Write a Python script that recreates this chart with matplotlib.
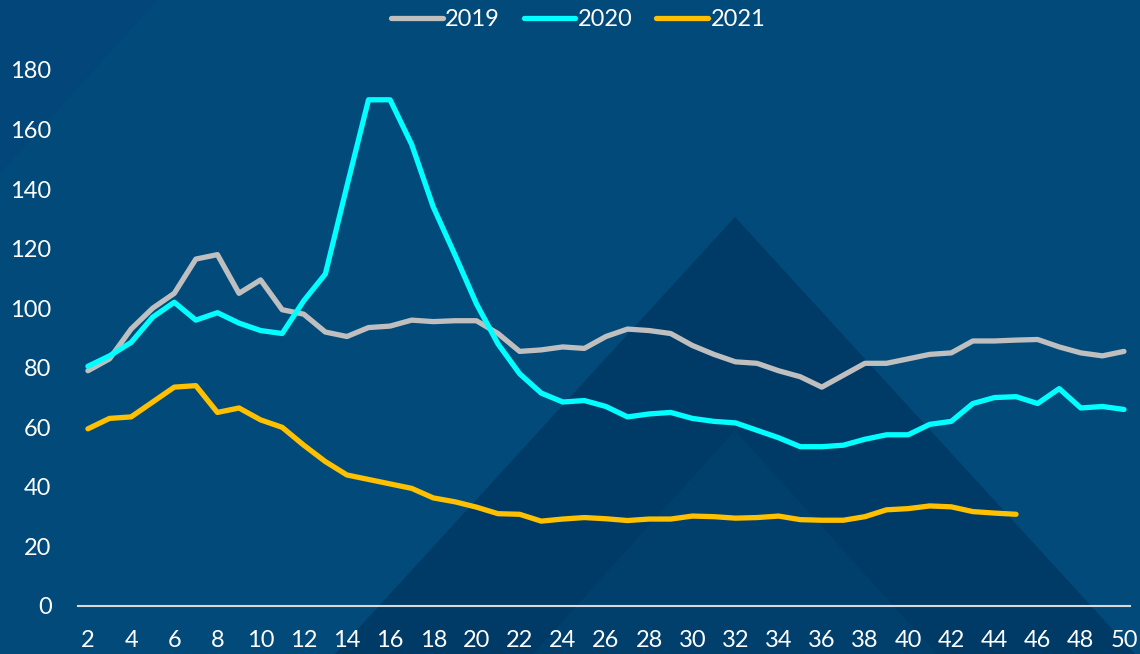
import matplotlib.pyplot as plt
from matplotlib.patches import Polygon

weeks = list(range(2, 51))

v2019 = [79, 83, 93, 100, 105, 116.5, 118, 105, 109.5, 99.5,
         98, 92, 90.5, 93.5, 94, 96, 95.5, 95.8, 95.8, 91.5,
         85.5, 86, 87, 86.5, 90.5, 93, 92.5, 91.5, 87.5, 84.5,
         82, 81.5, 79, 77, 73.5, 77.5, 81.5, 81.5, 83, 84.5,
         85, 89, 89, 89.3, 89.5, 87, 85, 84, 85.5]

v2020 = [80.5, 84, 88.5, 97, 102, 96, 98.5, 95, 92.5, 91.5,
         102.5, 111.5, 141, 170, 170, 155, 134, 118, 101.5, 88,
         78, 71.5, 68.5, 69, 67, 63.5, 64.5, 65, 63, 62,
         61.5, 59, 56.5, 53.5, 53.5, 54, 56, 57.5, 57.5, 61,
         62, 68, 70, 70.3, 68, 73, 66.5, 67, 66]

v2021 = [59.5, 63, 63.5, 68.5, 73.5, 74, 65, 66.5, 62.5, 60,
         54, 48.5, 44, 42.5, 41, 39.5, 36.3, 35, 33.2, 31,
         30.8, 28.5, 29.2, 29.7, 29.3, 28.7, 29.2, 29.2, 30.2, 30,
         29.5, 29.7, 30.2, 29, 28.8, 28.8, 30, 32.3, 32.7, 33.6,
         33.3, 31.7, 31.2, 30.8]

series = [("2019", v2019, "#BFBFBF"),
          ("2020", v2020, "#00FFFF"),
          ("2021", v2021, "#FFC000")]

plt.rcParams["font.family"] = ["Lato", "DejaVu Sans"]

W, H = 1140, 654
fig = plt.figure(figsize=(W / 100, H / 100), dpi=100)
fig.patch.set_facecolor("#014A7A")


def px(points):
    # background decoration in pixel coords (top-left origin)
    return [(x / W, 1 - y / H) for x, y in points]


deco = [
    ([(0, 0), (157, 0), (0, 173)], "#02467A"),
    ([(735, 217), (1135, 654), (335, 654)], "#003A66"),
    ([(735, 430), (937, 654), (533, 654)], "#013F6C"),
]
for pts, c in deco:
    fig.add_artist(Polygon(px(pts), closed=True, facecolor=c, edgecolor="none",
                           transform=fig.transFigure, zorder=-10))

ax = fig.add_axes([78 / W, 1 - 606 / H, (1130 - 78) / W, (606 - 70) / H])
ax.set_facecolor("none")

for name, vals, col in series:
    ax.plot(weeks[:len(vals)], vals, color=col, lw=3.8, label=name,
            solid_capstyle="round", solid_joinstyle="round", clip_on=False)

ax.set_xlim(1.54, 50.28)
ax.set_ylim(0, 180)
ax.set_xticks(range(2, 51, 2))
ax.set_yticks(range(0, 181, 20))

for s in ["top", "right", "left"]:
    ax.spines[s].set_visible(False)
ax.spines["bottom"].set_color("#D9D9D9")
ax.spines["bottom"].set_linewidth(1.5)

ax.tick_params(axis="both", length=0, labelcolor="white", labelsize=17)
ax.tick_params(axis="y", pad=19)
ax.tick_params(axis="x", pad=17)

leg = fig.legend(loc="upper center", bbox_to_anchor=(0.507, 1.018), ncol=3,
                 frameon=False, fontsize=17, handlelength=2.2,
                 handletextpad=0.1, columnspacing=1.0)
for t in leg.get_texts():
    t.set_color("white")

fig.savefig("out.png", dpi=100, facecolor=fig.get_facecolor())
